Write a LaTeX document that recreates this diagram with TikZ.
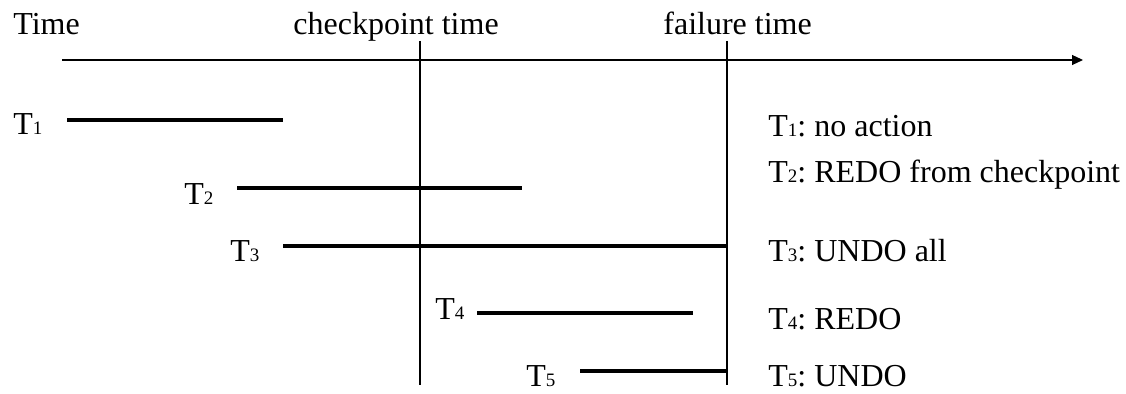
\documentclass[tikz,border=0pt]{standalone}
\usepackage{fontspec}
\setmainfont{Liberation Serif}
\usepackage{tikz}
\usetikzlibrary{arrows.meta,calc,positioning}
\newcommand\Tn[1]{T{\fontsize{9.5}{10}\selectfont #1}}
\frenchspacing

\begin{document}
\begin{tikzpicture}[x=.5pt,y=-.5pt,
  lbl/.style={anchor=base west,inner sep=0pt,font=\fontsize{16}{19}\selectfont},
  txline/.style={line width=2.1pt},
  vline/.style={line width=1.2pt}]
  \useasboundingbox (0,0) rectangle (1126,394);
  % header and time axis
  \node[lbl] (time) at (13,35) {Time};
  \node[lbl] (cptext) at (293,35) {checkpoint time};
  \node[lbl] (fltext) at (663,35) {failure time};
  \coordinate (axs) at (62,60);
  \coordinate (axe) at (1083,60);
  \draw[line width=.6pt,-{Triangle[length=5.5pt,width=5pt]}] (axs)--(axe);
  % checkpoint and failure
  \coordinate (cptop) at (420,41);
  \coordinate (cpbot) at (420,385);
  \coordinate (fltop) at (727,41);
  \coordinate (flbot) at (727,385);
  \draw[vline] (cptop)--(cpbot);
  \draw[vline] (fltop)--(flbot);
  % transactions
  \node[lbl] (t1) at (13,135) {\Tn{1}};
  \node[lbl] (t2) at (184,205) {\Tn{2}};
  \node[lbl] (t3) at (230,262) {\Tn{3}};
  \node[lbl] (t4) at (435,320) {\Tn{4}};
  \node[lbl] (t5) at (526,387) {\Tn{5}};
  \coordinate (t1s) at (67,120);  \coordinate (t1e) at (283,120);
  \coordinate (t2s) at (237,188); \coordinate (t2e) at (522,188);
  \coordinate (t3s) at (283,246);
  \coordinate (t4s) at (477,313); \coordinate (t4e) at (693,313);
  \coordinate (t5s) at (580,371);
  \draw[txline] (t1s)--(t1e);
  \draw[txline] (t2s)--(t2e);
  \draw[txline] (t3s)--(t3s-|fltop);
  \draw[txline] (t4s)--(t4e);
  \draw[txline] (t5s)--(t5s-|fltop);
  % recovery actions
  \node[lbl] (r1) at (768,137) {\Tn{1}: no action};
  \node[lbl] (r2) at (768,183) {\Tn{2}: REDO from checkpoint};
  \node[lbl] (r3) at (768,262) {\Tn{3}: UNDO all};
  \node[lbl] (r4) at (768,330) {\Tn{4}: REDO};
  \node[lbl] (r5) at (768,387) {\Tn{5}: UNDO};
\end{tikzpicture}
\end{document}
